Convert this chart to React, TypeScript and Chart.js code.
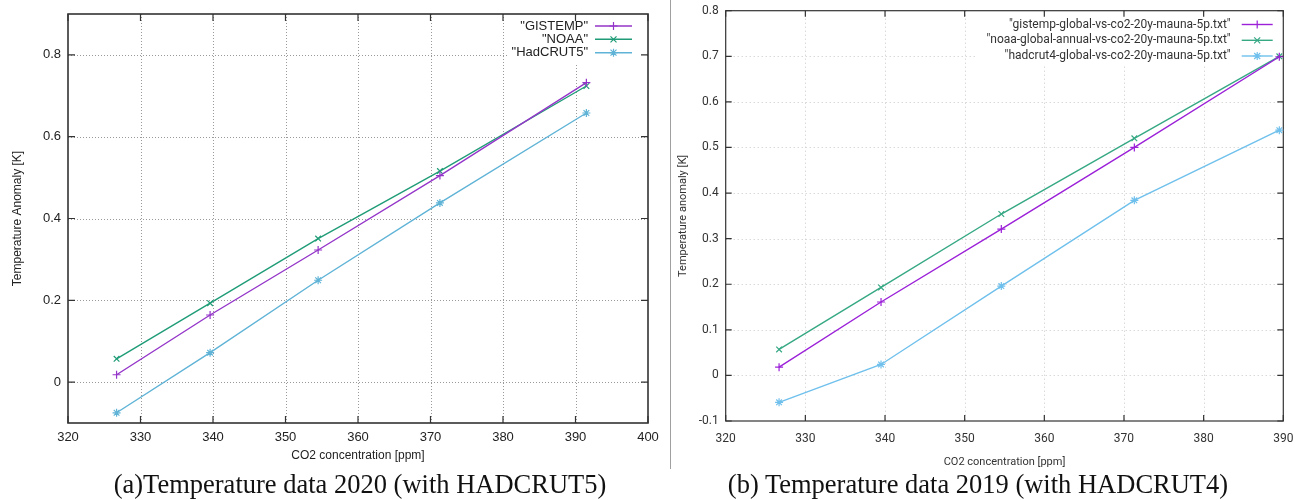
import React, { useEffect, useRef } from 'react';
import { Chart, registerables } from 'chart.js';

Chart.register(...registerables);

// ---- Panel (a): 2020 data (with HADCRUT5) ----
const co2A = [326.7, 339.6, 354.5, 371.3, 391.5];
const gistempA = [0.018, 0.164, 0.323, 0.505, 0.732];
const noaaA = [0.057, 0.193, 0.351, 0.516, 0.724];
const hadcrut5A = [-0.075, 0.072, 0.249, 0.438, 0.658];
const namesA = ['"GISTEMP"', '"NOAA"', '"HadCRUT5"'];
const xTicksA = [320, 330, 340, 350, 360, 370, 380, 390, 400];
const yTicksA = [0, 0.2, 0.4, 0.6, 0.8];

// ---- Panel (b): 2019 data (with HADCRUT4) ----
const co2B = [326.7, 339.5, 354.6, 371.3, 389.5];
const gistempB = [0.018, 0.161, 0.321, 0.5, 0.699];
const noaaB = [0.057, 0.193, 0.354, 0.52, 0.7];
const hadcrut4B = [-0.059, 0.024, 0.196, 0.384, 0.538];
const namesB = [
  '"gistemp-global-vs-co2-20y-mauna-5p.txt"',
  '"noaa-global-annual-vs-co2-20y-mauna-5p.txt"',
  '"hadcrut4-global-vs-co2-20y-mauna-5p.txt"',
];
const xTicksB = [320, 330, 340, 350, 360, 370, 380, 390];
const yTicksB = [-0.1, 0, 0.1, 0.2, 0.3, 0.4, 0.5, 0.6, 0.7, 0.8];

const captionA = '(a)Temperature data 2020 (with HADCRUT5)';
const captionB = '(b) Temperature data 2019 (with HADCRUT4)';

type Panel = {
  w: number; h: number;
  plotLeft: number; plotTop: number; plotRight: number; plotBottom: number;
  xMin: number; xMax: number; yMin: number; yMax: number;
  xTicks: number[]; yTicks: number[];
  co2: number[]; series: number[][]; names: string[];
  colors: string[]; styles: string[];
  font: string; tickSize: number; titleSize: number; legendSize: number;
  xTitle: string; yTitle: string; xTitleY: number; yTitleX: number;
  gridColor: string; gridDash: number[]; borderColor: string; borderWidth: number; tickLen: number;
  mask: [number, number, number, number];
  legendTextRight: number; legendX1: number; legendX2: number; legendRows: number[];
  textColor: string; xPad: number; yPad: number;
};

const panelA: Panel = {
  w: 670, h: 470,
  plotLeft: 68, plotTop: 14, plotRight: 648, plotBottom: 423,
  xMin: 320, xMax: 400, yMin: -0.1, yMax: 0.9,
  xTicks: xTicksA, yTicks: yTicksA,
  co2: co2A, series: [gistempA, noaaA, hadcrut5A], names: namesA,
  colors: ['#9435c9', '#1f9c77', '#5fb3d6'], styles: ['cross', 'crossRot', 'star'],
  font: '"Liberation Sans", Arial, sans-serif', tickSize: 13, titleSize: 12, legendSize: 13,
  xTitle: 'CO2 concentration [ppm]', yTitle: 'Temperature Anomaly [K]', xTitleY: 456, yTitleX: 18,
  gridColor: '#9a9a9a', gridDash: [1, 2], borderColor: '#333', borderWidth: 1.6, tickLen: 7,
  mask: [508, 14, 648, 62],
  legendTextRight: 588, legendX1: 595, legendX2: 632, legendRows: [26, 39.3, 52.7],
  textColor: '#222', xPad: 7, yPad: 7,
};

const panelB: Panel = {
  w: 623, h: 470,
  plotLeft: 53.7, plotTop: 10.7, plotRight: 611.3, plotBottom: 421,
  xMin: 320, xMax: 390, yMin: -0.1, yMax: 0.8,
  xTicks: xTicksB, yTicks: yTicksB,
  co2: co2B, series: [gistempB, noaaB, hadcrut4B], names: namesB,
  colors: ['#9b20d8', '#36a884', '#6fc0ec'], styles: ['cross', 'crossRot', 'star'],
  font: 'Roboto, "Noto Sans", sans-serif', tickSize: 12, titleSize: 11, legendSize: 12,
  xTitle: 'CO2 concentration [ppm]', yTitle: 'Temperature anomaly [K]', xTitleY: 462, yTitleX: 11,
  gridColor: '#c8c8c8', gridDash: [1, 3], borderColor: '#333', borderWidth: 1.2, tickLen: 6,
  mask: [303, 10.7, 611.3, 65],
  legendTextRight: 558.7, legendX1: 569.7, legendX2: 600.7, legendRows: [24.5, 40.3, 56],
  textColor: '#333', xPad: 11, yPad: 7,
};

function drawMarker(ctx: CanvasRenderingContext2D, style: string, x: number, y: number, r: number) {
  ctx.beginPath();
  if (style === 'cross' || style === 'star') {
    ctx.moveTo(x - r, y); ctx.lineTo(x + r, y);
    ctx.moveTo(x, y - r); ctx.lineTo(x, y + r);
  }
  if (style === 'crossRot' || style === 'star') {
    const d = r * 0.75;
    ctx.moveTo(x - d, y - d); ctx.lineTo(x + d, y + d);
    ctx.moveTo(x - d, y + d); ctx.lineTo(x + d, y - d);
  }
  ctx.stroke();
}

function makeConfig(p: Panel): any {
  const frame = {
    id: 'gnuplotFrame',
    beforeDatasetsDraw(chart: any) {
      const { ctx, chartArea: a, scales } = chart;
      const xs = scales.x, ys = scales.y;
      ctx.save();
      ctx.strokeStyle = p.gridColor;
      ctx.lineWidth = 1;
      ctx.setLineDash(p.gridDash);
      p.xTicks.forEach((v) => {
        if (v <= p.xMin || v >= p.xMax) return;
        const px = Math.round(xs.getPixelForValue(v)) + 0.5;
        ctx.beginPath(); ctx.moveTo(px, a.top); ctx.lineTo(px, a.bottom); ctx.stroke();
      });
      p.yTicks.forEach((v) => {
        if (v <= p.yMin + 1e-9 || v >= p.yMax - 1e-9) return;
        const py = Math.round(ys.getPixelForValue(v)) + 0.5;
        ctx.beginPath(); ctx.moveTo(a.left, py); ctx.lineTo(a.right, py); ctx.stroke();
      });
      ctx.setLineDash([]);
      ctx.fillStyle = '#fff';
      const [mx1, my1, mx2, my2] = p.mask;
      ctx.fillRect(mx1, my1 + 1, mx2 - mx1 - 1, my2 - my1);
      ctx.strokeStyle = p.borderColor;
      ctx.lineWidth = p.borderWidth;
      ctx.strokeRect(a.left, a.top, a.right - a.left, a.bottom - a.top);
      ctx.lineWidth = 1.2;
      p.xTicks.forEach((v) => {
        const px = xs.getPixelForValue(v);
        ctx.beginPath();
        ctx.moveTo(px, a.bottom); ctx.lineTo(px, a.bottom - p.tickLen);
        ctx.moveTo(px, a.top); ctx.lineTo(px, a.top + p.tickLen);
        ctx.stroke();
      });
      p.yTicks.forEach((v) => {
        const py = ys.getPixelForValue(v);
        ctx.beginPath();
        ctx.moveTo(a.left, py); ctx.lineTo(a.left + p.tickLen, py);
        ctx.moveTo(a.right, py); ctx.lineTo(a.right - p.tickLen, py);
        ctx.stroke();
      });
      ctx.restore();
    },
    afterDraw(chart: any) {
      const { ctx, chartArea: a } = chart;
      ctx.save();
      // legend
      ctx.font = `${p.legendSize}px ${p.font}`;
      ctx.textAlign = 'right';
      ctx.textBaseline = 'middle';
      p.names.forEach((name, i) => {
        const yy = p.legendRows[i];
        ctx.fillStyle = p.textColor;
        ctx.fillText(name, p.legendTextRight, yy);
        ctx.strokeStyle = p.colors[i];
        ctx.lineWidth = 1.4;
        ctx.beginPath(); ctx.moveTo(p.legendX1, yy); ctx.lineTo(p.legendX2, yy); ctx.stroke();
        ctx.lineWidth = 1.2;
        drawMarker(ctx, p.styles[i], (p.legendX1 + p.legendX2) / 2, yy, 4);
      });
      // axis titles
      ctx.fillStyle = p.textColor;
      ctx.font = `${p.titleSize}px ${p.font}`;
      ctx.textAlign = 'center';
      ctx.fillText(p.xTitle, (a.left + a.right) / 2, p.xTitleY);
      ctx.translate(p.yTitleX, (a.top + a.bottom) / 2);
      ctx.rotate(-Math.PI / 2);
      ctx.fillText(p.yTitle, 0, 0);
      ctx.restore();
    },
  };

  return {
    type: 'scatter',
    data: {
      datasets: p.series.map((vals, i) => ({
        label: p.names[i],
        data: p.co2.map((x, j) => ({ x, y: vals[j] })),
        showLine: true,
        borderColor: p.colors[i],
        backgroundColor: p.colors[i],
        borderWidth: 1.4,
        pointStyle: p.styles[i],
        pointRadius: 4,
        pointBorderWidth: 1.2,
        pointHoverRadius: 4,
        tension: 0,
        fill: false,
        clip: false,
      })),
    },
    options: {
      responsive: false,
      animation: false,
      devicePixelRatio: 1,
      events: [],
      layout: { padding: { left: 0, top: p.plotTop, right: p.w - p.plotRight, bottom: 0 } },
      plugins: { legend: { display: false }, tooltip: { enabled: false }, title: { display: false } },
      scales: {
        x: {
          type: 'linear',
          min: p.xMin,
          max: p.xMax,
          grid: { display: false, drawTicks: false },
          border: { display: false },
          afterBuildTicks: (s: any) => { s.ticks = p.xTicks.map((v) => ({ value: v })); },
          afterFit: (s: any) => {
            s.height = p.h - p.plotBottom;
            s.paddingLeft = 0; s.paddingRight = 0; s.paddingTop = 0; s.paddingBottom = 0;
          },
          ticks: {
            autoSkip: false,
            maxRotation: 0,
            padding: p.xPad,
            color: p.textColor,
            font: { family: p.font, size: p.tickSize },
            callback: (v: any) => String(v),
          },
        },
        y: {
          type: 'linear',
          min: p.yMin,
          max: p.yMax,
          grid: { display: false, drawTicks: false },
          border: { display: false },
          afterBuildTicks: (s: any) => { s.ticks = p.yTicks.map((v) => ({ value: v })); },
          afterFit: (s: any) => {
            s.width = p.plotLeft;
            s.paddingLeft = 0; s.paddingRight = 0; s.paddingTop = 0; s.paddingBottom = 0;
          },
          ticks: {
            autoSkip: false,
            padding: p.yPad,
            color: p.textColor,
            font: { family: p.font, size: p.tickSize },
            callback: (v: any) => String(Math.round(Number(v) * 10) / 10),
          },
        },
      },
    },
    plugins: [frame],
  };
}

function PanelChart({ panel, left }: { panel: Panel; left: number }) {
  const ref = useRef<HTMLCanvasElement | null>(null);
  useEffect(() => {
    if (!ref.current) return;
    const chart = new Chart(ref.current, makeConfig(panel));
    return () => chart.destroy();
  }, [panel]);
  return (
    <canvas
      ref={ref}
      width={panel.w}
      height={panel.h}
      style={{ position: 'absolute', left, top: 0, width: panel.w, height: panel.h }}
    />
  );
}

const captionStyle: React.CSSProperties = {
  position: 'absolute',
  top: 468,
  fontFamily: '"Liberation Serif", "Times New Roman", serif',
  fontSize: 26.5,
  lineHeight: '32px',
  color: '#111',
  whiteSpace: 'nowrap',
  textAlign: 'center',
};

export default function App() {
  return (
    <div style={{ position: 'absolute', left: 0, top: 0, width: 1295, height: 500, background: '#fff', overflow: 'hidden' }}>
      <PanelChart panel={panelA} left={0} />
      <div style={{ position: 'absolute', left: 670, top: 0, width: 1, height: 469, background: '#a0a0a0' }} />
      <PanelChart panel={panelB} left={672} />
      <div style={{ ...captionStyle, left: 60, width: 600 }}>{captionA}</div>
      <div style={{ ...captionStyle, left: 678, width: 600 }}>{captionB}</div>
    </div>
  );
}
